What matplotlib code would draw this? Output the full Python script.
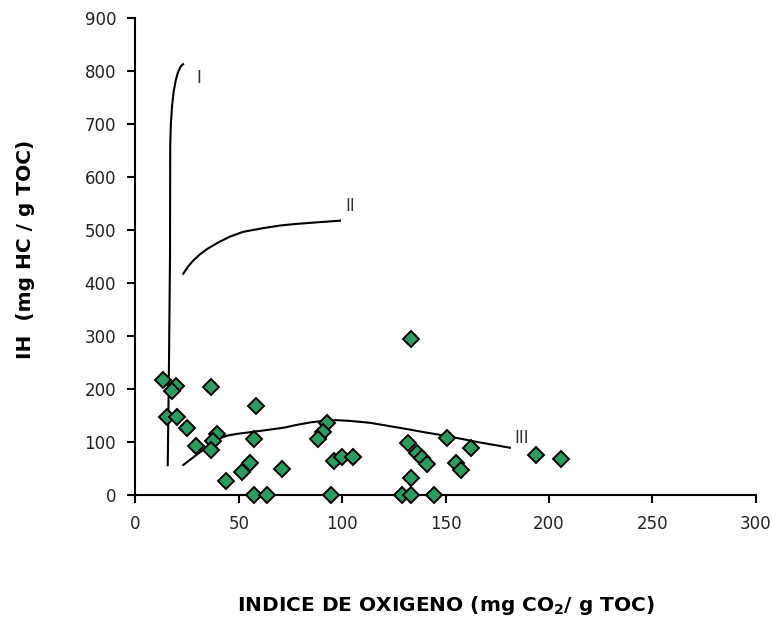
import numpy as np
import matplotlib.pyplot as plt

# muestras (IO, IH)
io = [13.4, 19.4, 17.5, 36.5, 15.1, 20.1, 25.1, 29.1, 39.6, 37.6, 36.5, 58.1, 57.2,
      43.6, 51.4, 55.4, 70.7, 57.3, 63.4, 94.5, 92.5, 90.5, 88.4, 95.8, 100.0, 105.3,
      133.1, 131.9, 136.0, 138.4, 140.8, 133.1, 128.7, 133.1, 144.5, 150.8, 155.0,
      157.2, 162.2, 193.5, 205.8]
ih = [217, 207, 197, 205, 148, 148, 127, 94, 116, 102, 86, 168, 106,
      28, 45, 61, 49, 0, 0, 0, 136, 120, 106, 65, 73, 73,
      295, 99, 80, 70, 59, 32, 0, 0, 0, 108, 62,
      48, 90, 76, 69]

# curvas de tipo de kerogeno
k1_x = [15.6, 16.2, 16.7, 16.8, 17.1, 17.7, 18.5, 19.5, 20.4, 21.5, 22.3, 23.0]
k1_y = [57, 250, 450, 660, 700, 735, 762, 783, 796, 806, 811, 813]
k2_x = [23.1, 25.5, 28.0, 31.0, 34.4, 40.0, 45.7, 52.0, 61.8, 70.0, 77.9, 88.0, 98.9]
k2_y = [418, 432, 443, 454, 464, 477, 488, 497, 504, 509, 512, 515, 518]
k3_x = [23.1, 28.0, 32.8, 37.0, 40.9, 44.5, 48.9, 57.0, 66.6, 72.0, 77.9, 85.0, 92.5,
        97.0, 102.0, 108.0, 113.4, 121.0, 130.0, 140.0, 150.8, 165.0, 181.1]
k3_y = [57.5, 72, 86, 98, 108, 113, 116, 120, 125, 128, 133, 138, 141,
        142, 141, 139, 137, 132, 126, 119, 112, 101, 90]

fig = plt.figure(figsize=(7.72, 6.24), dpi=100)
ax = fig.add_axes([0.1755, 0.206, 0.8035, 0.765])

ax.plot(k1_x, k1_y, color='black', lw=1.5)
ax.plot(k2_x, k2_y, color='black', lw=1.5)
ax.plot(k3_x, k3_y, color='black', lw=1.5)

ax.plot(io, ih, linestyle='none', marker='D', markersize=8, markerfacecolor='#2e9960',
        markeredgecolor='black', markeredgewidth=1.4, clip_on=False, zorder=5)

ax.text(30.4, 787, 'I', fontsize=12, ha='center', va='center', color='#333333')
ax.text(103.7, 545, 'II', fontsize=12, ha='center', va='center', color='#333333')
ax.text(187, 108, 'III', fontsize=12, ha='center', va='center', color='#333333')

ax.set_xlim(0, 300)
ax.set_ylim(0, 900)
ax.set_xticks(range(0, 301, 50))
ax.set_yticks(range(0, 901, 100))
ax.spines['top'].set_visible(False)
ax.spines['right'].set_visible(False)
for s in ['left', 'bottom']:
    ax.spines[s].set_linewidth(1.5)
ax.tick_params(direction='out', length=6, width=1.5, labelsize=12, pad=8,
               labelcolor='#222222')

fig.text(0.577, 0.03, r'INDICE DE OXIGENO (mg CO$_\mathregular{2}$/ g TOC)',
         fontsize=14.5, fontweight='bold', ha='center', va='center')
fig.text(0.033, 0.60, 'IH  (mg HC / g TOC)', fontsize=14.5, fontweight='bold',
         ha='center', va='center', rotation=90)

fig.savefig('out.png', dpi=100)
